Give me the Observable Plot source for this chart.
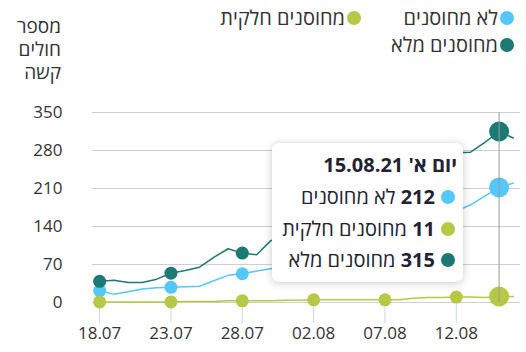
<!DOCTYPE html>
<html><head><meta charset="utf-8">
<script src="https://cdn.jsdelivr.net/npm/d3@7"></script>
<script src="https://cdn.jsdelivr.net/npm/@observablehq/plot@0.6"></script>
<style>
body{margin:0;background:#fff;font-family:"Open Sans","Liberation Sans",sans-serif;}
#wrap{position:relative;width:526px;height:352px;overflow:hidden;background:#fff}
#chart{position:absolute;left:0;top:0}
.legend{position:absolute;direction:rtl;font-size:20px;line-height:26px;height:26px;color:#333;white-space:nowrap;display:flex;align-items:center}
.dot{display:inline-block;width:14px;height:14px;border-radius:50%;margin-left:2px;flex:none}
#ytitle{position:absolute;right:465px;top:15px;direction:rtl;text-align:right;color:#333;white-space:nowrap}
#ytitle div{font-size:19px;line-height:23px;height:23px}
#tip{position:absolute;left:272px;top:143px;width:191px;height:139px;background:#fff;border-radius:7px;box-shadow:0 1px 8px rgba(0,0,0,0.22);direction:rtl;color:#1f2333}
#tip .row{position:absolute;right:8px;display:flex;align-items:center;font-size:20px;line-height:26px;height:26px;white-space:nowrap}
#tip .row .dot{margin-left:6px}
#tip .hdr{position:absolute;right:6px;top:9px;font-size:20px;line-height:26px;height:26px;font-weight:bold;white-space:nowrap}
</style></head>
<body>
<div id="wrap">
  <div id="chart"></div>
  <div id="ytitle"></div>
  <div id="legend"></div>
  <div id="tip"></div>
</div>
<script>
const dates = ["2021-07-18","2021-07-19","2021-07-20","2021-07-21","2021-07-22","2021-07-23","2021-07-24","2021-07-25","2021-07-26","2021-07-27","2021-07-28","2021-07-29","2021-07-30","2021-07-31","2021-08-01","2021-08-02","2021-08-03","2021-08-04","2021-08-05","2021-08-06","2021-08-07","2021-08-08","2021-08-09","2021-08-10","2021-08-11","2021-08-12","2021-08-13","2021-08-14","2021-08-15","2021-08-16"];
const unvaccinated = [22,15,20,25,27,28,29,30,40,50,53,58,62,64,68,75,82,90,98,108,115,122,132,143,155,168,180,196,212,220];
const partial = [1,1,1,1,1,1,2,2,2,3,3,3,3,4,4,5,5,5,5,5,5,5,8,9,9,10,10,9,11,11];
const full = [39,41,37,37,43,54,59,65,83,99,91,88,114,122,135,148,160,172,190,205,215,228,240,255,268,276,277,295,315,303];
const seriesNames = ["לא מחוסנים","מחוסנים חלקית","מחוסנים מלא"];
const seriesColors = ["#55c7f8","#b6c846","#1b7a74"];
const xTicks = ["2021-07-18","2021-07-23","2021-07-28","2021-08-02","2021-08-07","2021-08-12"];
const yTicks = [0,70,140,210,280,350];
const yTitle = ["מספר","חולים","קשה"];
const hoverDate = "2021-08-15";
const hoverLabel = "יום א' 15.08.21";

const parse = d3.utcParse("%Y-%m-%d");
const valuesBySeries = [unvaccinated, partial, full];
const rows = [];
valuesBySeries.forEach((vals, s) => vals.forEach((v, i) => rows.push({date: parse(dates[i]), key: dates[i], value: v, series: seriesNames[s]})));
const tickRows = rows.filter(r => xTicks.includes(r.key));
const hoverRows = rows.filter(r => r.key === hoverDate);
const colorScale = {domain: seriesNames, range: seriesColors};

const chart = Plot.plot({
  width: 526, height: 352,
  marginTop: 112, marginBottom: 50, marginLeft: 92, marginRight: 6,
  style: {fontFamily: '"Open Sans","Liberation Sans",sans-serif', fontSize: "17px", color: "#333", background: "#fff"},
  x: {type: "utc", domain: [new Date(Date.UTC(2021,6,17,12)), new Date(Date.UTC(2021,7,16,12))]},
  y: {domain: [0, 350]},
  color: colorScale,
  marks: [
    Plot.gridY(yTicks, {stroke: "#cfcfcf", strokeOpacity: 1, strokeWidth: 1}),
    Plot.axisY(yTicks, {tickSize: 0, tickPadding: 30, label: null, fill: "#333"}),
    Plot.axisX(xTicks.map(parse), {tickSize: 21, tickPadding: 3, stroke: "#ccd6eb", fill: "#333", tickFormat: d3.utcFormat("%d.%m"), label: null}),
    Plot.line(rows, {x: "date", y: "value", z: "series", stroke: "series", strokeWidth: 1.5}),
    Plot.dot(tickRows, {x: "date", y: "value", fill: "series", r: 6.5}),
    Plot.dot(hoverRows, {x: "date", y: "value", fill: "series", r: 10}),
    Plot.ruleX([parse(hoverDate)], {stroke: "#999", strokeWidth: 1})
  ]
});
document.getElementById("chart").appendChild(chart);

document.getElementById("ytitle").innerHTML = yTitle.map(t => `<div>${t}</div>`).join("");

const legendPos = [{right: 12, top: 5}, {right: 165, top: 5}, {right: 12, top: 32}];
const legend = document.getElementById("legend");
seriesNames.forEach((n, i) => {
  const d = document.createElement("div");
  d.className = "legend";
  d.style.right = legendPos[i].right + "px";
  d.style.top = legendPos[i].top + "px";
  d.innerHTML = `<span class="dot" style="background:${seriesColors[i]}"></span><span>${n}</span>`;
  legend.appendChild(d);
});

const tip = document.getElementById("tip");
const hi = dates.indexOf(hoverDate);
let html = `<div class="hdr">${hoverLabel}</div>`;
const rowTops = [41, 73, 104];
seriesNames.forEach((n, i) => {
  html += `<div class="row" style="top:${rowTops[i]}px"><span class="dot" style="background:${seriesColors[i]}"></span><b>${valuesBySeries[i][hi]}</b>&nbsp;<span>${n}</span></div>`;
});
tip.innerHTML = html;
</script>
</body></html>
